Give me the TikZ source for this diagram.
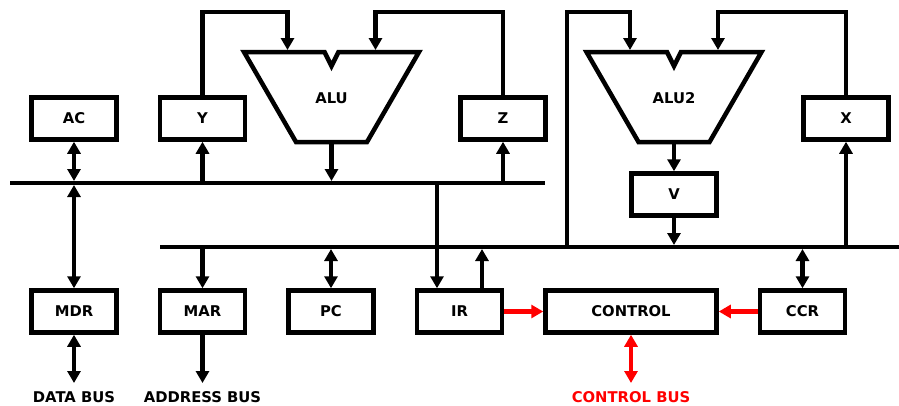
\documentclass[tikz,border=0pt]{standalone}
\usepackage{fontspec}
\setmainfont{DejaVu Sans}
\usetikzlibrary{arrows.meta,positioning,calc}
\newcommand{\alushape}[1]{%
  \draw[wire] ($(#1)+(-87.5,-46)$) -- ($(#1)+(-7,-46)$) -- ($(#1)+(0,-32)$)
    -- ($(#1)+(7,-46)$) -- ($(#1)+(87.5,-46)$) -- ($(#1)+(35.5,44)$)
    -- ($(#1)+(-35.5,44)$) -- cycle;}

\begin{document}
\begin{tikzpicture}[x=1pt,y=-1pt,font=\fontsize{14.8}{17}\selectfont\bfseries,
  >={Triangle[length=12pt,width=13pt]},node distance=39pt,
  wire/.style={line width=4.5pt},
  reg/.style={draw,line width=4.5pt,minimum width=85pt,minimum height=42pt,inner sep=0pt},
  busname/.style={inner sep=0pt,outer sep=0pt},
  ctl/.style={red}]
\useasboundingbox (0,0) rectangle (899,405);
% buses
\coordinate (rail) at (0,12);
\coordinate (bus1W) at (10,183);
\coordinate (bus1E) at (545,183);
\coordinate (bus2W) at (160,247);
\coordinate (bus2E) at (899,247);
\coordinate (tap) at (567,247);
\draw[wire] (bus1W) -- (bus1E);
\draw[wire] (bus2W) -- (bus2E);
% registers
\node[reg] (AC) at (74,118.5) {AC};
\node[reg,right=of AC] (Y) {Y};
\node[reg] (Z) at (503,118.5) {Z};
\node[reg] (X) at (846,118.5) {X};
\node[reg] (V) at (674,194.5) {V};
\node[reg] (MDR) at (74,311.5) {MDR};
\node[reg,right=of MDR] (MAR) {MAR};
\node[reg,right=of MAR] (PC) {PC};
\node[reg,right=of PC] (IR) {IR};
\node[reg,right=of IR,minimum width=171pt] (CTRL) {CONTROL};
\node[reg,right=of CTRL] (CCR) {CCR};
% ALUs
\node (alu) at (331.5,98) {ALU};
\node (alu2) at (674,98) {ALU2};
\alushape{alu}
\alushape{alu2}
\coordinate (aluL) at ($(alu)+(-44,-46)$);
\coordinate (aluR) at ($(alu)+(44,-46)$);
\coordinate (aluO) at ($(alu)+(0,44)$);
\coordinate (alu2L) at ($(alu2)+(-44,-46)$);
\coordinate (alu2R) at ($(alu2)+(44,-46)$);
\coordinate (alu2O) at ($(alu2)+(0,44)$);
\coordinate (irin) at ($(IR.north)+(-22.5,0)$);
\coordinate (irout) at ($(IR.north)+(22.5,0)$);
% bus labels
\node[busname,below=80.5pt of MDR.center] (databus) {DATA BUS};
\node[busname,below=80.5pt of MAR.center] (addrbus) {ADDRESS BUS};
\node[busname,ctl,below=80.5pt of CTRL.center] (ctrlbus) {CONTROL BUS};
% connectors
\draw[wire,->,shorten >=2pt] (Y.north) |- (rail -| aluL) -- (aluL);
\draw[wire,->,shorten >=2pt] (Z.north) |- (rail -| aluR) -- (aluR);
\draw[wire,->,shorten >=2pt] (aluO) -- (aluO |- bus1W);
\draw[wire,<->,shorten >=2pt] (AC.south) -- (AC.south |- bus1W);
\draw[wire,->] (Y.south |- bus1W) -- (Y.south);
\draw[wire,->] (Z.south |- bus1W) -- (Z.south);
\draw[wire,<->,shorten <=2pt] (AC.south |- bus1W) -- (MDR.north);
\draw[wire,->] (MAR.north |- bus2W) -- (MAR.north);
\draw[wire,<->,shorten <=2pt] (PC.north |- bus2W) -- (PC.north);
\draw[wire,->] (irin |- bus1W) -- (irin);
\draw[wire,->,shorten >=2pt] (irout) -- (irout |- bus2W);
\draw[wire,<->,shorten <=2pt] (CCR.north |- bus2W) -- (CCR.north);
\draw[wire,->] (X.south |- bus2W) -- (X.south);
\draw[wire,->,shorten >=2pt] (X.north) |- (rail -| alu2R) -- (alu2R);
\draw[wire,->,shorten >=2pt] (tap) |- (rail -| alu2L) -- (alu2L);
\draw[wire,->] (alu2O) -- (V.north);
\draw[wire,->,shorten >=2pt] (V.south) -- (V.south |- bus2W);
\draw[wire,<->,shorten >=9pt] (MDR.south) -- (databus.north);
\draw[wire,->,shorten >=9pt] (MAR.south) -- (addrbus.north);
% control signals
\draw[wire,ctl,->] (IR.east) -- (CTRL.west);
\draw[wire,ctl,->] (CCR.west) -- (CTRL.east);
\draw[wire,ctl,<->,shorten >=9pt] (CTRL.south) -- (ctrlbus.north);
\end{tikzpicture}
\end{document}
